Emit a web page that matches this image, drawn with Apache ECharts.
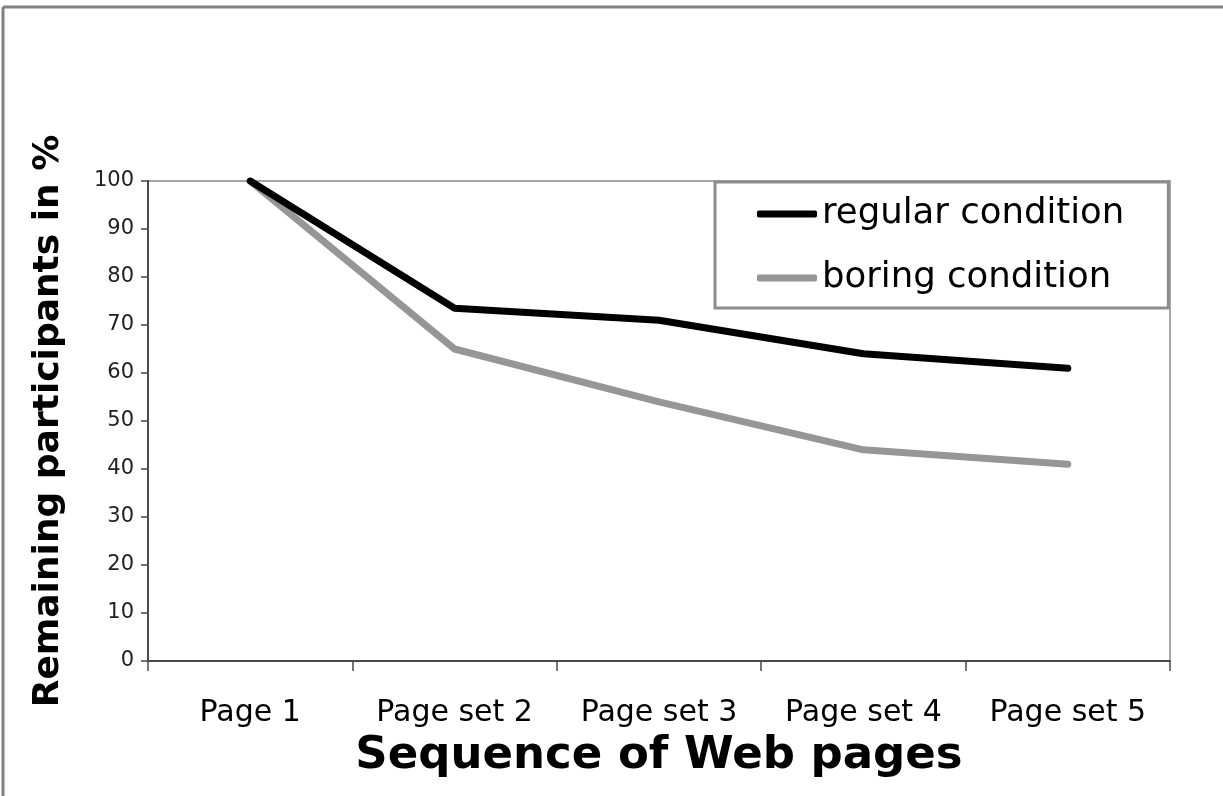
<!DOCTYPE html>
<html>
<head>
<meta charset="utf-8">
<script src="https://cdn.jsdelivr.net/npm/echarts@6/dist/echarts.min.js"></script>
<style>
  html, body { margin: 0; padding: 0; background: #fff; }
  #chart { width: 1223px; height: 796px; }
</style>
</head>
<body>
<div id="chart"></div>
<script>
// Share of participants still active at each step of the page sequence
const categories = ['Page 1', 'Page set 2', 'Page set 3', 'Page set 4', 'Page set 5'];
const regularCondition = [100, 73.5, 71, 64, 61];
const boringCondition = [100, 65, 54, 44, 41];
const seriesNames = ['regular condition', 'boring condition'];

const font = '"DejaVu Sans", Verdana, sans-serif';
const axisColor = '#4a4a4a';

const chart = echarts.init(document.getElementById('chart'), null, { renderer: 'canvas' });

chart.setOption({
  backgroundColor: '#ffffff',
  animation: false,
  graphic: [
    // outer frame (top and left edges)
    { type: 'line', shape: { x1: 3, y1: 7, x2: 1223, y2: 7 }, style: { stroke: '#808080', lineWidth: 3 }, z: 10 },
    { type: 'line', shape: { x1: 3, y1: 7, x2: 3, y2: 796 }, style: { stroke: '#808080', lineWidth: 3 }, z: 10 }
  ],
  grid: {
    left: 148, right: 53, top: 181, bottom: 135,
    show: true,
    borderColor: '#a6a6a6',
    borderWidth: 2,
    backgroundColor: 'transparent'
  },
  legend: {
    data: seriesNames,
    orient: 'vertical',
    left: 715,
    top: 182,
    padding: [12, 44, 10, 42],
    itemGap: 24,
    itemWidth: 60,
    itemHeight: 7,
    icon: 'roundRect',
    backgroundColor: '#ffffff',
    borderColor: '#8c8c8c',
    borderWidth: 3,
    textStyle: { fontFamily: font, fontSize: 35.5, color: '#000', lineHeight: 40, padding: [0, 0, 0, 0] },
    z: 20
  },
  xAxis: {
    type: 'category',
    data: categories,
    boundaryGap: true,
    axisLine: { lineStyle: { color: axisColor, width: 2 } },
    axisTick: { show: true, length: 10, lineStyle: { color: axisColor, width: 1.5 } },
    axisLabel: { fontFamily: font, fontSize: 30, color: '#000', margin: 37, interval: 0 },
    splitLine: { show: false },
    name: 'Sequence of Web pages',
    nameLocation: 'middle',
    nameGap: 73,
    nameTextStyle: { fontFamily: font, fontSize: 45, fontWeight: 'bold', color: '#000' }
  },
  yAxis: {
    type: 'value',
    min: 0,
    max: 100,
    interval: 10,
    axisLine: { show: true, lineStyle: { color: axisColor, width: 2 } },
    axisTick: { show: true, length: 7, lineStyle: { color: axisColor, width: 1.5 } },
    axisLabel: { fontFamily: font, fontSize: 21, color: '#222', margin: 14 },
    splitLine: { show: false },
    name: 'Remaining participants in %',
    nameLocation: 'middle',
    nameGap: 81,
    nameTextStyle: { fontFamily: font, fontSize: 36, fontWeight: 'bold', color: '#000' }
  },
  series: [
    {
      name: seriesNames[0],
      type: 'line',
      data: regularCondition,
      symbol: 'none',
      lineStyle: { color: '#000000', width: 7, join: 'round', cap: 'round' },
      itemStyle: { color: '#000000' },
      z: 3
    },
    {
      name: seriesNames[1],
      type: 'line',
      data: boringCondition,
      symbol: 'none',
      lineStyle: { color: '#969696', width: 7, join: 'round', cap: 'round' },
      itemStyle: { color: '#969696' },
      z: 2
    }
  ]
});
</script>
</body>
</html>
